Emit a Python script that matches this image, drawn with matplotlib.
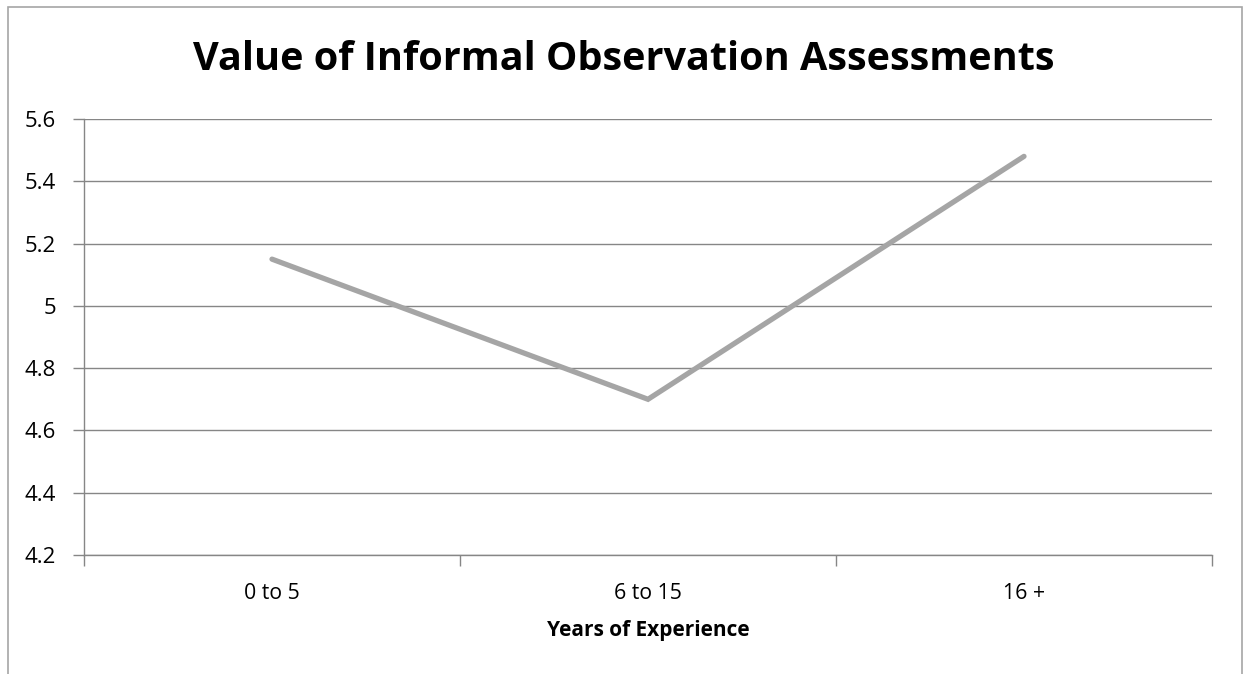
import matplotlib
matplotlib.use('agg')
import matplotlib.pyplot as plt
from matplotlib.patches import Rectangle

# data
categories = ['0 to 5', '6 to 15', '16 +']
values = [5.15, 4.70, 5.48]
yticks = [4.2, 4.4, 4.6, 4.8, 5.0, 5.2, 5.4, 5.6]
yticklabels = ['4.2', '4.4', '4.6', '4.8', '5', '5.2', '5.4', '5.6']

plt.rcParams['font.family'] = ['Open Sans', 'DejaVu Sans']

W, H = 1249, 674
fig = plt.figure(figsize=(W / 100, H / 100), dpi=100)

# outer chart border (bottom edge cut off in the original)
fig.patches.append(Rectangle((8 / W, -0.05), (1242 - 8) / W, 1.05 - 7 / H,
                             transform=fig.transFigure, fill=False,
                             edgecolor='#a6a6a6', linewidth=1.2))

ax = fig.add_axes([84 / W, 1 - 555 / H, (1212 - 84) / W, (555 - 119) / H])

x = [i + 0.5 for i in range(len(categories))]
ax.plot(x, values, color='#a5a5a5', linewidth=3.8, solid_capstyle='round',
        solid_joinstyle='miter', zorder=3)

ax.set_xlim(0, len(categories))
ax.set_ylim(4.2, 5.6)
ax.set_yticks(yticks)
ax.set_yticklabels(yticklabels)
ax.grid(axis='y', color='#868686', linewidth=1.0)
ax.set_axisbelow(True)

# category ticks sit between categories
ax.set_xticks(range(len(categories) + 1))
ax.set_xticklabels([])
ax.set_xticks(x, minor=True)
ax.set_xticklabels(categories, minor=True)
ax.tick_params(axis='x', which='minor', length=0, pad=20, labelsize=15.3)
ax.tick_params(axis='x', which='major', length=8, color='#868686', width=1)
ax.tick_params(axis='y', length=8, color='#868686', width=1, pad=12, labelsize=16)

for s in ['top', 'right']:
    ax.spines[s].set_visible(False)
for s in ['left', 'bottom']:
    ax.spines[s].set_color('#868686')
    ax.spines[s].set_linewidth(1.0)

ax.set_xlabel('Years of Experience', fontsize=15, fontweight='bold', labelpad=12)
fig.text(624 / W, 1 - 60 / H, 'Value of Informal Observation Assessments',
         ha='center', va='center', fontsize=28.5, fontweight='bold')

plt.savefig('out.png', dpi=100)
plt.close(fig)
